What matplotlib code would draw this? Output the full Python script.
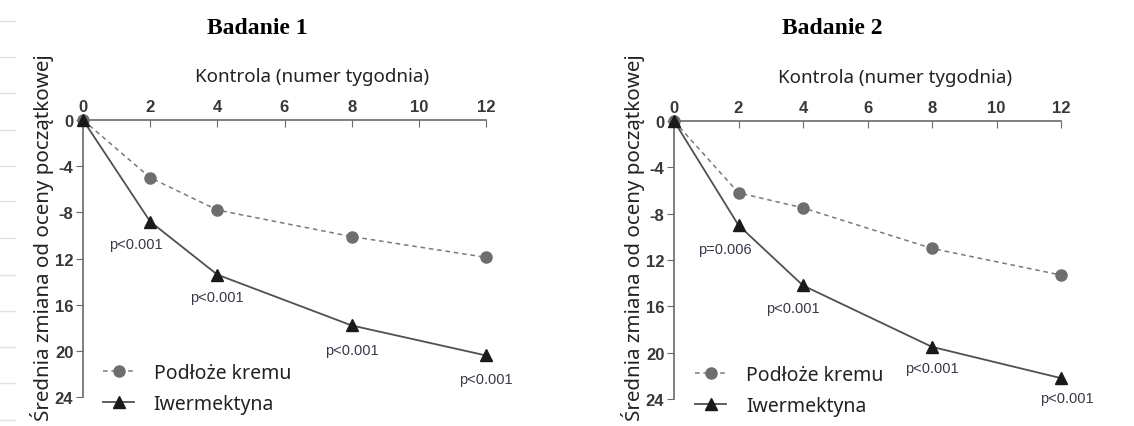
import matplotlib.pyplot as plt
from matplotlib.lines import Line2D

# data
weeks = [0, 2, 4, 8, 12]
vehicle_1 = [0, 5.0, 7.8, 10.1, 11.9]
iverm_1 = [0, 8.8, 13.4, 17.8, 20.4]
vehicle_2 = [0, 6.2, 7.5, 11.0, 13.3]
iverm_2 = [0, 9.0, 14.2, 19.5, 22.2]
pvals_1 = ['p<0.001', 'p<0.001', 'p<0.001', 'p<0.001']
pvals_2 = ['p=0.006', 'p<0.001', 'p<0.001', 'p<0.001']
yticks = [0, 4, 8, 12, 16, 20, 24]
ytick_labels = ['0', '-4', '-8', '12', '16', '20', '24']
xticks = [0, 2, 4, 6, 8, 10, 12]

narrow = ['Liberation Sans Narrow', 'Liberation Sans', 'DejaVu Sans']
sans = ['Noto Sans', 'DejaVu Sans']

fig = plt.figure(figsize=(11.34, 4.27), dpi=100)

# faint dashes along the left edge of the source image
for yy in [22, 58, 94, 131, 167, 202, 239, 276, 312, 348, 384, 421]:
    fig.add_artist(Line2D([0, 15 / 1134], [1 - yy / 427] * 2, color='#e2e2e2', lw=1))


def panel(rect, veh, ivm, pvals, offs, title, title_x, ylab_x, xlab_x, leg_xy):
    ax = fig.add_axes(rect)
    ax.plot(weeks, veh, color='#7a7a7a', ls=(0, (3, 2.5)), lw=1.1,
            marker='o', ms=8, mfc='#6e6e6e', mec='#6e6e6e', clip_on=False, zorder=3,
            label='Podłoże kremu')
    ax.plot(weeks, ivm, color='#505050', ls='-', lw=1.3,
            marker='^', ms=9, mfc='#1a1a1a', mec='#1a1a1a', clip_on=False, zorder=4,
            label='Iwermektyna')
    ax.set_xlim(0, 12)
    ax.set_ylim(24, 0)
    for s in ['right', 'bottom']:
        ax.spines[s].set_visible(False)
    for s in ['top', 'left']:
        ax.spines[s].set_color('#6a6a6a')
        ax.spines[s].set_linewidth(1.2)
    ax.xaxis.tick_top()
    ax.xaxis.set_label_position('top')
    ax.set_xticks(xticks)
    ax.set_xticklabels([str(t) for t in xticks], family=narrow, fontsize=12,
                       color='#383838', fontweight='bold')
    ax.tick_params(axis='x', direction='in', length=5, color='#6a6a6a', pad=4)
    ax.set_yticks(yticks)
    ax.set_yticklabels(ytick_labels, family=narrow, fontsize=12,
                       color='#383838', fontweight='bold')
    ax.tick_params(axis='y', direction='out', length=5, color='#6a6a6a', pad=2)
    ax.set_xlabel('Kontrola (numer tygodnia)', family=sans, fontsize=13.5,
                  color='#222222')
    ax.xaxis.set_label_coords(xlab_x, 1.14)
    for w, v, p, o in zip(weeks[1:], ivm[1:], pvals, offs):
        ax.annotate(p, (w, v), textcoords='offset points', xytext=o,
                    ha='center', va='center', family=narrow, fontsize=10.5,
                    color='#383848', annotation_clip=False)
    leg = ax.legend(loc='upper left', bbox_to_anchor=leg_xy, frameon=False,
                    prop={'family': sans, 'size': 14}, handlelength=1.6,
                    handletextpad=1.0, labelspacing=0.55, borderaxespad=0,
                    borderpad=0)
    for t in leg.get_texts():
        t.set_color('#222222')
    fig.text(title_x, 0.934, title, family=['Liberation Serif', 'DejaVu Serif'],
             fontweight='bold', fontsize=17, ha='center', va='center')
    fig.text(ylab_x, 0.443, 'Średnia zmiana od oceny początkowej', family=sans,
             fontsize=14.8, rotation=90, ha='center', va='center', color='#222222')
    return ax


panel([83 / 1134, 1 - 398 / 427, 403 / 1134, 277 / 427], vehicle_1, iverm_1, pvals_1,
      [(-10, -16), (0, -16), (0, -18), (0, -17)], 'Badanie 1', 257 / 1134, 42 / 1134,
      0.568, (0.05, 0.123))
panel([674 / 1134, 1 - 400 / 427, 387 / 1134, 278 / 427], vehicle_2, iverm_2, pvals_2,
      [(-10, -17), (-7, -16), (0, -15), (4, -14)], 'Badanie 2', 832 / 1134, 633 / 1134,
      0.572, (0.055, 0.123))

fig.savefig('out.png', dpi=100)
